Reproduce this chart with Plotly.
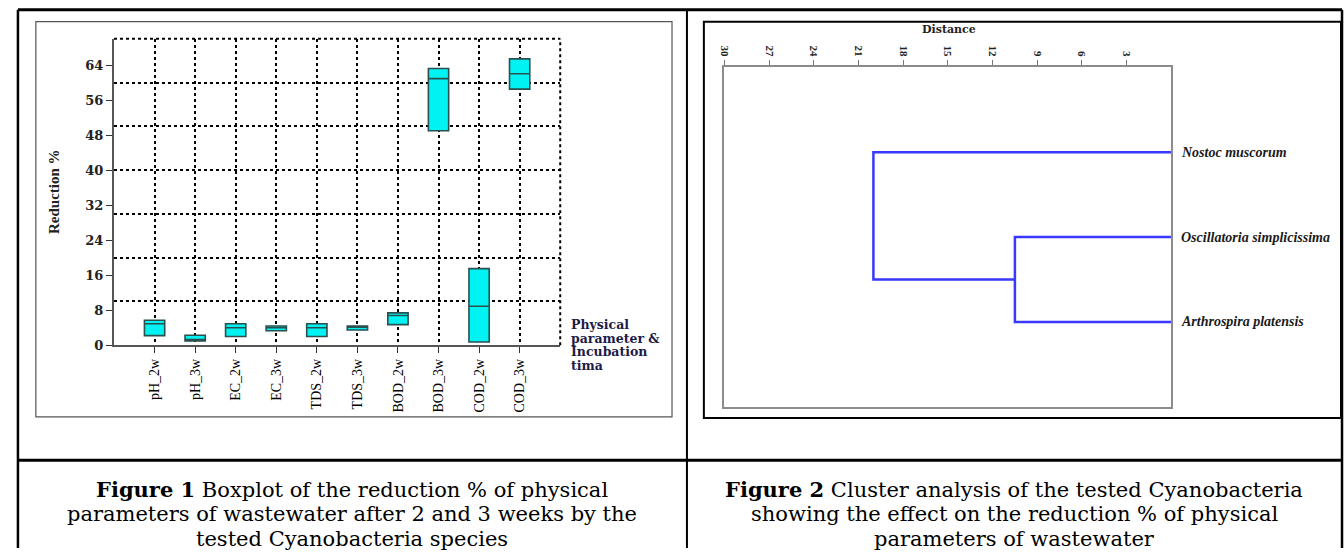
import plotly.graph_objects as go

W, H = 1344, 556

# ---------------- Figure 1 data (box plot) ----------------
categories = ["pH_2w", "pH_3w", "EC_2w", "EC_3w", "TDS_2w", "TDS_3w",
              "BOD_2w", "BOD_3w", "COD_2w", "COD_3w"]
q1_vals = [2.2, 1.0, 2.0, 3.3, 2.0, 3.5, 4.7, 49.0, 0.75, 58.5]
median_vals = [4.9, 1.3, 4.0, 4.0, 4.0, 4.1, 6.8, 60.9, 8.9, 62.0]
q3_vals = [5.7, 2.3, 4.9, 4.4, 4.9, 4.4, 7.4, 63.2, 17.5, 65.4]
y_ticks = [0, 8, 16, 24, 32, 40, 48, 56, 64]
y_grid = [10, 20, 30, 40, 50, 60]

# ---------------- Figure 2 data (dendrogram) ----------------
species = ["Nostoc muscorum", "Oscillatoria simplicissima", "Arthrospira platensis"]
leaf_pos = [1, 2, 3]
merge_low = 10.5    # Oscillatoria + Arthrospira
merge_high = 20.0   # Nostoc + (Oscillatoria, Arthrospira)
dist_ticks = [30, 27, 24, 21, 18, 15, 12, 9, 6, 3]


def px(x):
    return x / W


def py(y):
    return 1 - y / H


fig = go.Figure()

fig.add_trace(go.Box(
    x=categories, q1=q1_vals, median=median_vals, q3=q3_vals,
    lowerfence=q1_vals, upperfence=q3_vals,
    width=0.5, whiskerwidth=0,
    fillcolor="#00F3F3", line=dict(color="#2a5050", width=1.6),
    xaxis="x", yaxis="y", showlegend=False, hoverinfo="skip",
))

# dendrogram paths built from the merge data
mid_low = (leaf_pos[1] + leaf_pos[2]) / 2
dx = [0, merge_high, merge_high, merge_low, None,
      0, merge_low, merge_low, 0]
dy = [leaf_pos[0], leaf_pos[0], mid_low, mid_low, None,
      leaf_pos[1], leaf_pos[1], leaf_pos[2], leaf_pos[2]]
fig.add_trace(go.Scatter(
    x=dx, y=dy, mode="lines", line=dict(color="#3838FF", width=2.5),
    xaxis="x2", yaxis="y2", showlegend=False, hoverinfo="skip",
))

serif = "Liberation Serif"
wide = "DejaVu Serif"

fig.update_layout(
    width=W, height=H, margin=dict(l=0, r=0, t=0, b=0),
    paper_bgcolor="white", plot_bgcolor="white", showlegend=False,
    xaxis=dict(
        domain=[px(108.5), px(556.7)], anchor="y", type="category",
        range=[-1, 10], showgrid=True, gridcolor="black", griddash="dot",
        gridwidth=1.6, showline=True, linecolor="#555", linewidth=2,
        ticks="outside", ticklen=6, tickcolor="#333", tickwidth=1.2,
        tickangle=-90, tickfont=dict(family=serif, size=14, color="black"),
        zeroline=False,
    ),
    yaxis=dict(
        domain=[py(350.3), py(39.3)], anchor="x", range=[0, 70],
        tickvals=y_ticks, showgrid=False,
        minor=dict(tickvals=y_grid, showgrid=True, gridcolor="black",
                   griddash="dot", gridwidth=1.6, ticks=""),
        showline=True, linecolor="#555", linewidth=2,
        ticks="outside", ticklen=6, tickcolor="#333", tickwidth=1.2,
        tickfont=dict(family=wide, size=13, color="#222", weight="bold"),
        zeroline=False,
    ),
    xaxis2=dict(
        domain=[px(721.7), px(1170.5)], anchor="y2", range=[30, 0],
        side="top", tickvals=dist_ticks, tickangle=90,
        ticks="outside", ticklen=5, tickcolor="#777",
        tickfont=dict(family=serif, size=11, color="#222", weight="bold"),
        showline=True, mirror=True, linecolor="#8c8c8c", linewidth=2,
        showgrid=False, zeroline=False,
    ),
    yaxis2=dict(
        domain=[py(412.7), py(68.3)], anchor="x2", range=[4, 0],
        showticklabels=False, ticks="", showline=True, mirror=True,
        linecolor="#8c8c8c", linewidth=2, showgrid=False, zeroline=False,
    ),
)

shapes = []


def pline(x0, y0, x1, y1, w, c="black", dash="solid"):
    shapes.append(dict(type="line", xref="paper", yref="paper",
                       x0=px(x0), y0=py(y0), x1=px(x1), y1=py(y1),
                       line=dict(color=c, width=w, dash=dash)))


# table frame
pline(12, 10, 1342, 10, 3)
pline(12, 10, 12, 556, 2.5)
pline(684, 10, 684, 556, 2)
pline(1342, 10, 1342, 556, 2.5)
pline(12, 467, 1342, 467, 3)

# inner chart frames
shapes.append(dict(type="rect", xref="paper", yref="paper",
                   x0=px(30), y0=py(423), x1=px(669), y1=py(22),
                   line=dict(color="#555", width=1.2)))
shapes.append(dict(type="rect", xref="paper", yref="paper",
                   x0=px(701), y0=py(424), x1=px(1341), y1=py(22),
                   line=dict(color="black", width=2)))

# dotted top / right borders of box plot
shapes.append(dict(type="line", xref="x domain", yref="y domain",
                   x0=0, y0=1, x1=1, y1=1,
                   line=dict(color="black", width=2, dash="dot")))
shapes.append(dict(type="line", xref="x domain", yref="y domain",
                   x0=1, y0=0, x1=1, y1=1,
                   line=dict(color="black", width=2, dash="dot")))

fig.update_layout(shapes=shapes)

ann = []
ann.append(dict(text="Reduction %", x=px(48), y=py(194), xref="paper", yref="paper",
                textangle=-90, showarrow=False, xanchor="center", yanchor="middle",
                font=dict(family=serif, size=15, color="#222", weight="bold")))

for i, t in enumerate(["Physical", "parameter &", "Incubation", "tima"]):
    ann.append(dict(text=t, x=px(566), y=py(329 + 14 * i), xref="paper", yref="paper",
                    xanchor="left", yanchor="middle", showarrow=False,
                    font=dict(family=wide, size=12.5, color="#1c1c48", weight="bold")))

ann.append(dict(text="Distance", x=px(947), y=py(30), xref="paper", yref="paper",
                showarrow=False, xanchor="center", yanchor="middle",
                font=dict(family=wide, size=11, color="#222", weight="bold")))

for name, pos in zip(species, leaf_pos):
    ann.append(dict(text=name, x=0, y=pos, xref="x2", yref="y2",
                    xanchor="left", yanchor="middle", xshift=8, showarrow=False,
                    font=dict(family=serif, size=14, color="#1a1a1a",
                              weight="bold", style="italic")))

cap1 = ["<b>Figure 1</b> Boxplot of the reduction % of physical",
        "parameters of wastewater after 2 and 3 weeks by the",
        "tested Cyanobacteria species"]
cap2 = ["<b>Figure 2</b> Cluster analysis of the tested Cyanobacteria",
        "showing the effect on the reduction % of physical",
        "parameters of wastewater"]
for i, (a, b) in enumerate(zip(cap1, cap2)):
    yy = 497 + 25 * i
    ann.append(dict(text=a, x=px(348), y=py(yy), xref="paper", yref="paper",
                    showarrow=False, xanchor="center", yanchor="middle",
                    font=dict(family=wide, size=21, color="black")))
    ann.append(dict(text=b, x=px(1013), y=py(yy), xref="paper", yref="paper",
                    showarrow=False, xanchor="center", yanchor="middle",
                    font=dict(family=wide, size=21, color="black")))

fig.update_layout(annotations=ann)

fig.write_html("out.html",
               config={"displayModeBar": False},
               post_script="document.body.style.margin='0px';"
                           "document.body.style.overflow='hidden';")
